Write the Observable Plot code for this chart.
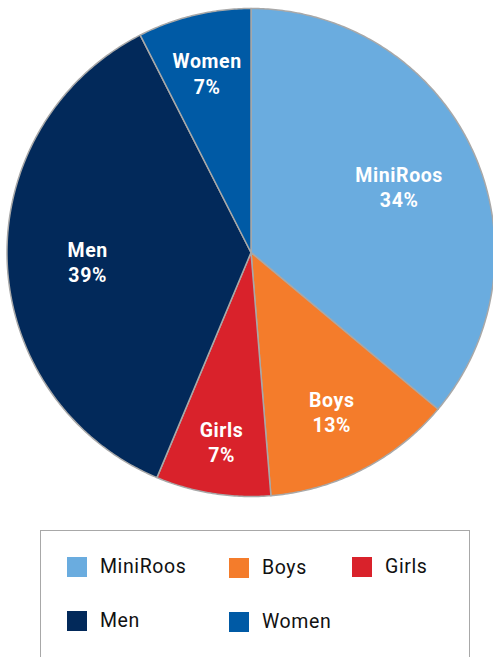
<!DOCTYPE html>
<html>
<head>
<meta charset="utf-8">
<script src="https://cdn.jsdelivr.net/npm/d3@7"></script>
<script src="https://cdn.jsdelivr.net/npm/@observablehq/plot@0.6"></script>
<style>
  html, body { margin: 0; padding: 0; background: #fff; overflow: hidden; }
  #chart svg { display: block; }
  #legend {
    position: relative;
    margin-top: 15px;
    margin-left: 40px;
    width: 430px;
    height: 150px;
    border: 1.5px solid #a8a8a8;
    border-bottom: none;
    box-sizing: border-box;
    font-family: Roboto, "Open Sans", sans-serif;
  }
  .item { position: absolute; display: flex; align-items: center; }
  .sw { width: 20px; height: 20px; margin-right: 13px; }
  .lab { font-size: 19.5px; color: #111; letter-spacing: 0.6px; }
</style>
</head>
<body>
<div id="chart"></div>
<div id="legend"></div>
<script>
// Data
const categories = ["MiniRoos", "Boys", "Girls", "Men", "Women"];
const shares = [36.1, 12.6, 7.6, 36.2, 7.5];          // slice sizes as drawn
const percentLabels = ["34%", "13%", "7%", "39%", "7%"]; // printed labels
const colors = ["#6aacdf", "#f47c2b", "#d9222b", "#02295a", "#005aa5"];

// Build slice outlines from the data via d3.pie
const arcs = d3.pie().sort(null).value(d => d)(shares);
const outline = [];
const labels = [];
arcs.forEach((a, i) => {
  const cat = categories[i];
  outline.push({cat, px: 0, py: 0});
  const n = Math.max(8, Math.ceil((a.endAngle - a.startAngle) / 0.01));
  for (let k = 0; k <= n; k++) {
    const t = a.startAngle + (a.endAngle - a.startAngle) * k / n;
    outline.push({cat, px: Math.sin(t), py: Math.cos(t)});
  }
  outline.push({cat, px: 0, py: 0});
  const frac = (a.endAngle - a.startAngle) / (2 * Math.PI);
  const lr = frac < 0.1 ? 0.77 : frac < 0.2 ? 0.72 : 0.67;
  const m = (a.startAngle + a.endAngle) / 2;
  labels.push({cat, px: lr * Math.sin(m), py: lr * Math.cos(m), text: cat + "\n" + percentLabels[i]});
});

const W = 493, H = 515, cx = 250.5, cy = 252, R = 244;
const chart = Plot.plot({
  width: W,
  height: H,
  margin: 0,
  x: {domain: [-cx / R, (W - cx) / R], axis: null},
  y: {domain: [-(H - cy) / R, cy / R], axis: null},
  color: {domain: categories, range: colors},
  style: {fontFamily: "Roboto, sans-serif", background: "#fff"},
  marks: [
    Plot.line(outline, {x: "px", y: "py", z: "cat", fill: "cat", stroke: "#a8a8a8", strokeWidth: 1.5, curve: "linear"}),
    Plot.text(labels, {x: "px", y: "py", dy: 3, text: "text", fill: "white", fontWeight: "bold", fontSize: 19.5, lineHeight: 1.3})
  ]
});
chart.querySelectorAll("text").forEach(t => t.style.letterSpacing = "0.6px");
document.getElementById("chart").appendChild(chart);

// Legend
const legend = document.getElementById("legend");
const pos = [[26, 24], [188, 25], [311, 24], [26, 78], [188, 79]];
categories.forEach((c, i) => {
  const it = document.createElement("div");
  it.className = "item";
  it.style.left = pos[i][0] + "px";
  it.style.top = pos[i][1] + "px";
  it.innerHTML = `<div class="sw" style="background:${colors[i]}"></div><span class="lab">${c}</span>`;
  legend.appendChild(it);
});
</script>
</body>
</html>
